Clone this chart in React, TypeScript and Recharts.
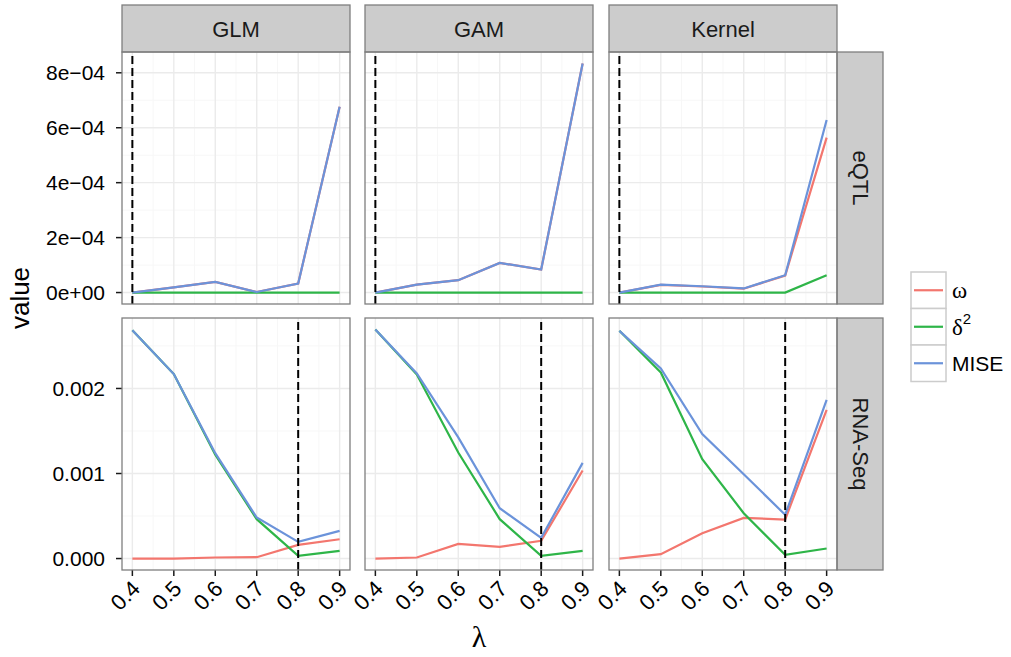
import { LineChart, Line, XAxis, YAxis, ReferenceLine } from "recharts"

const lambdas = [0.4, 0.5, 0.6, 0.7, 0.8, 0.9]
const methods = ["GLM", "GAM", "Kernel"]
const datasets = ["eQTL", "RNA-Seq"]

// eQTL row
const eqtlGlmOmega = [0, 0.000019, 0.000039, 0.000002, 0.000033, 0.000676]
const eqtlGlmDelta = [0, 0, 0, 0, 0, 0]
const eqtlGlmMise = [0, 0.000019, 0.000039, 0.000002, 0.000033, 0.000676]
const eqtlGamOmega = [0, 0.000029, 0.000045, 0.000108, 0.000084, 0.000834]
const eqtlGamDelta = [0, 0, 0, 0, 0, 0]
const eqtlGamMise = [0, 0.000029, 0.000045, 0.000108, 0.000084, 0.000834]
const eqtlKerOmega = [0, 0.000028, 0.000022, 0.000014, 0.000062, 0.000564]
const eqtlKerDelta = [0, 0, 0, 0, 0, 0.000063]
const eqtlKerMise = [0, 0.000029, 0.000023, 0.000015, 0.000063, 0.000628]

// RNA-Seq row
const rnaGlmOmega = [0, 0, 0.000012, 0.000016, 0.00016, 0.000227]
const rnaGlmDelta = [0.002686, 0.002169, 0.00122, 0.000463, 0.000031, 0.00009]
const rnaGlmMise = [0.002686, 0.002169, 0.001239, 0.000482, 0.000196, 0.000325]
const rnaGamOmega = [0, 0.000012, 0.000173, 0.000137, 0.000208, 0.001035]
const rnaGamDelta = [0.002694, 0.002164, 0.001247, 0.000463, 0.000031, 0.00009]
const rnaGamMise = [0.002694, 0.002176, 0.001424, 0.000592, 0.000243, 0.001125]
const rnaKerOmega = [0, 0.000051, 0.000298, 0.000478, 0.000459, 0.001749]
const rnaKerDelta = [0.002678, 0.002188, 0.001169, 0.000533, 0.000043, 0.000118]
const rnaKerMise = [0.002678, 0.002235, 0.001463, 0.000992, 0.000514, 0.001867]

const cutoffs = [0.4, 0.8]

const yTicks = [
  [0, 0.0002, 0.0004, 0.0006, 0.0008],
  [0, 0.001, 0.002],
]
const yLabels = [
  ["0e+00", "2e\u221204", "4e\u221204", "6e\u221204", "8e\u221204"],
  ["0.000", "0.001", "0.002"],
]
const yMinor = [
  [0.0001, 0.0003, 0.0005, 0.0007],
  [0.0005, 0.0015, 0.0025],
]
const xMinor = [0.45, 0.55, 0.65, 0.75, 0.85]
const xDomain = [0.375, 0.925]

const seriesKeys = ["omega", "delta", "mise"]
const seriesColors = ["#F3766E", "#2EB548", "#6B93DA"]

const raw = [
  [
    [eqtlGlmOmega, eqtlGlmDelta, eqtlGlmMise],
    [eqtlGamOmega, eqtlGamDelta, eqtlGamMise],
    [eqtlKerOmega, eqtlKerDelta, eqtlKerMise],
  ],
  [
    [rnaGlmOmega, rnaGlmDelta, rnaGlmMise],
    [rnaGamOmega, rnaGamDelta, rnaGamMise],
    [rnaKerOmega, rnaKerDelta, rnaKerMise],
  ],
]

const tables = raw.map((row) =>
  row.map((s) => lambdas.map((l, i) => ({ lambda: l, omega: s[0][i], delta: s[1][i], mise: s[2][i] })))
)

// ggplot-style 5% expansion, shared across a row
const yDomains = raw.map((row) => {
  const all = row.flat(2)
  const lo = Math.min(...all)
  const hi = Math.max(...all)
  const pad = (hi - lo) * 0.05
  return [lo - pad, hi + pad]
})

const W = 228
const H = 252
const colLeft = [122, 365, 609]
const rowTop = [52, 318]
const stripTop = 5
const stripW = 46
const axisH = 80
const padL = 40
const padR = 12
const font = "'Liberation Sans', Arial, sans-serif"
const majorGrid = "#EBEBEB"
const minorGrid = "#F7F7F7"
const frame = "#7F7F7F"

function XTick(props: any) {
  const { x, y, payload } = props
  const ax = x + 9
  const ay = y + 12
  return (
    <text
      x={ax}
      y={ay}
      transform={`rotate(-45 ${ax} ${ay})`}
      textAnchor="end"
      fill="#000"
      style={{ fontSize: 22, fontFamily: font }}
    >
      {payload.value.toFixed(1)}
    </text>
  )
}

function YTick(props: any) {
  const { x, y, payload, r } = props
  const idx = yTicks[r].findIndex((t) => Math.abs(t - payload.value) < 1e-9)
  return (
    <text x={x} y={y} textAnchor="end" dominantBaseline="central" fill="#000" style={{ fontSize: 21, fontFamily: font }}>
      {yLabels[r][idx]}
    </text>
  )
}

function Panel({ r, c }: { r: number; c: number }) {
  const showY = c === 0
  const showX = r === 1
  const left = showY ? 0 : colLeft[c] - padL
  const width = (showY ? colLeft[0] : padL) + W + padR
  const height = H + (showX ? axisH : 0)
  return (
    <div style={{ position: "absolute", left, top: rowTop[r] }}>
      <LineChart
        width={width}
        height={height}
        data={tables[r][c]}
        margin={{ top: 0, right: padR, bottom: 0, left: showY ? 0 : padL }}
      >
        <XAxis
          dataKey="lambda"
          type="number"
          domain={xDomain}
          ticks={lambdas}
          interval={0}
          allowDataOverflow
          hide={!showX}
          height={axisH}
          axisLine={false}
          tickSize={6}
          tickLine={{ stroke: "#1a1a1a", strokeWidth: 1.5 }}
          tick={(p: any) => <XTick {...p} />}
        />
        <YAxis
          type="number"
          domain={yDomains[r]}
          ticks={yTicks[r]}
          interval={0}
          allowDataOverflow
          hide={!showY}
          width={colLeft[0]}
          axisLine={false}
          tickSize={6}
          tickMargin={11}
          tickLine={{ stroke: "#1a1a1a", strokeWidth: 1.5 }}
          tick={(p: any) => <YTick {...p} r={r} />}
        />
        {xMinor.map((v) => (
          <ReferenceLine key={"xm" + v} x={v} stroke={minorGrid} strokeWidth={1} />
        ))}
        {yMinor[r].map((v) => (
          <ReferenceLine key={"ym" + v} y={v} stroke={minorGrid} strokeWidth={1} />
        ))}
        {lambdas.map((v) => (
          <ReferenceLine key={"xM" + v} x={v} stroke={majorGrid} strokeWidth={1.4} />
        ))}
        {yTicks[r].map((v) => (
          <ReferenceLine key={"yM" + v} y={v} stroke={majorGrid} strokeWidth={1.4} />
        ))}
        {seriesKeys.map((k, i) => (
          <Line
            key={k}
            dataKey={k}
            type="linear"
            stroke={seriesColors[i]}
            strokeWidth={2.2}
            dot={false}
            activeDot={false}
            isAnimationActive={false}
          />
        ))}
        <ReferenceLine x={cutoffs[r]} stroke="#000" strokeWidth={2} strokeDasharray="8 4" />
      </LineChart>
    </div>
  )
}

function LegendKey() {
  const labels = [
    <tspan key="w" fontFamily="'Liberation Serif', serif" fontSize={23}>ω</tspan>,
    <>
      <tspan fontFamily="'Liberation Serif', serif" fontSize={23}>δ</tspan>
      <tspan dy={-9} fontSize={15}>2</tspan>
    </>,
    <tspan>MISE</tspan>,
  ]
  return (
    <svg width={120} height={120} style={{ position: "absolute", left: 905, top: 266 }}>
      {seriesKeys.map((k, i) => (
        <g key={k} transform={`translate(6, ${6 + i * 36.5})`}>
          <rect x={0} y={0} width={35} height={36.5} fill="#fff" stroke="#CCCCCC" strokeWidth={1.5} />
          <line x1={3} x2={32} y1={18.25} y2={18.25} stroke={seriesColors[i]} strokeWidth={2.2} />
          <text x={41} y={18.25} dominantBaseline="central" fontSize={21} fontFamily={font} fill="#000">
            {labels[i]}
          </text>
        </g>
      ))}
    </svg>
  )
}

export default function App() {
  return (
    <div style={{ position: "absolute", left: 0, top: 0, width: 1011, height: 657, background: "#fff", fontFamily: font }}>
      {datasets.map((_, r) => methods.map((__, c) => <Panel key={r + "-" + c} r={r} c={c} />))}
      <svg width={1011} height={657} style={{ position: "absolute", left: 0, top: 0, pointerEvents: "none" }}>
        {methods.map((m, c) => (
          <g key={m}>
            <rect x={colLeft[c]} y={stripTop} width={W} height={rowTop[0] - stripTop} fill="#CCCCCC" stroke={frame} strokeWidth={1.3} />
            <text x={colLeft[c] + W / 2} y={(stripTop + rowTop[0]) / 2 + 1} textAnchor="middle" dominantBaseline="central" fontSize={22} fontFamily={font} fill="#1a1a1a">
              {m}
            </text>
          </g>
        ))}
        {datasets.map((d, r) => {
          const sx = colLeft[2] + W
          const cy = rowTop[r] + H / 2
          return (
            <g key={d}>
              <rect x={sx} y={rowTop[r]} width={stripW} height={H} fill="#CCCCCC" stroke={frame} strokeWidth={1.3} />
              <text x={sx + stripW / 2} y={cy} transform={`rotate(90 ${sx + stripW / 2} ${cy})`} textAnchor="middle" dominantBaseline="central" fontSize={22} fontFamily={font} fill="#1a1a1a">
                {d}
              </text>
            </g>
          )
        })}
        {datasets.map((_, r) =>
          methods.map((__, c) => (
            <rect key={r + "f" + c} x={colLeft[c]} y={rowTop[r]} width={W} height={H} fill="none" stroke={frame} strokeWidth={1.3} />
          ))
        )}
        <text x={20} y={298} transform="rotate(-90 20 298)" textAnchor="middle" dominantBaseline="central" fontSize={26} fontFamily={font} fill="#000">
          value
        </text>
        <text x={479} y={636} textAnchor="middle" dominantBaseline="central" fontSize={30} fontFamily="'Liberation Serif', serif" fill="#000">
          λ
        </text>
      </svg>
      <LegendKey />
    </div>
  )
}
